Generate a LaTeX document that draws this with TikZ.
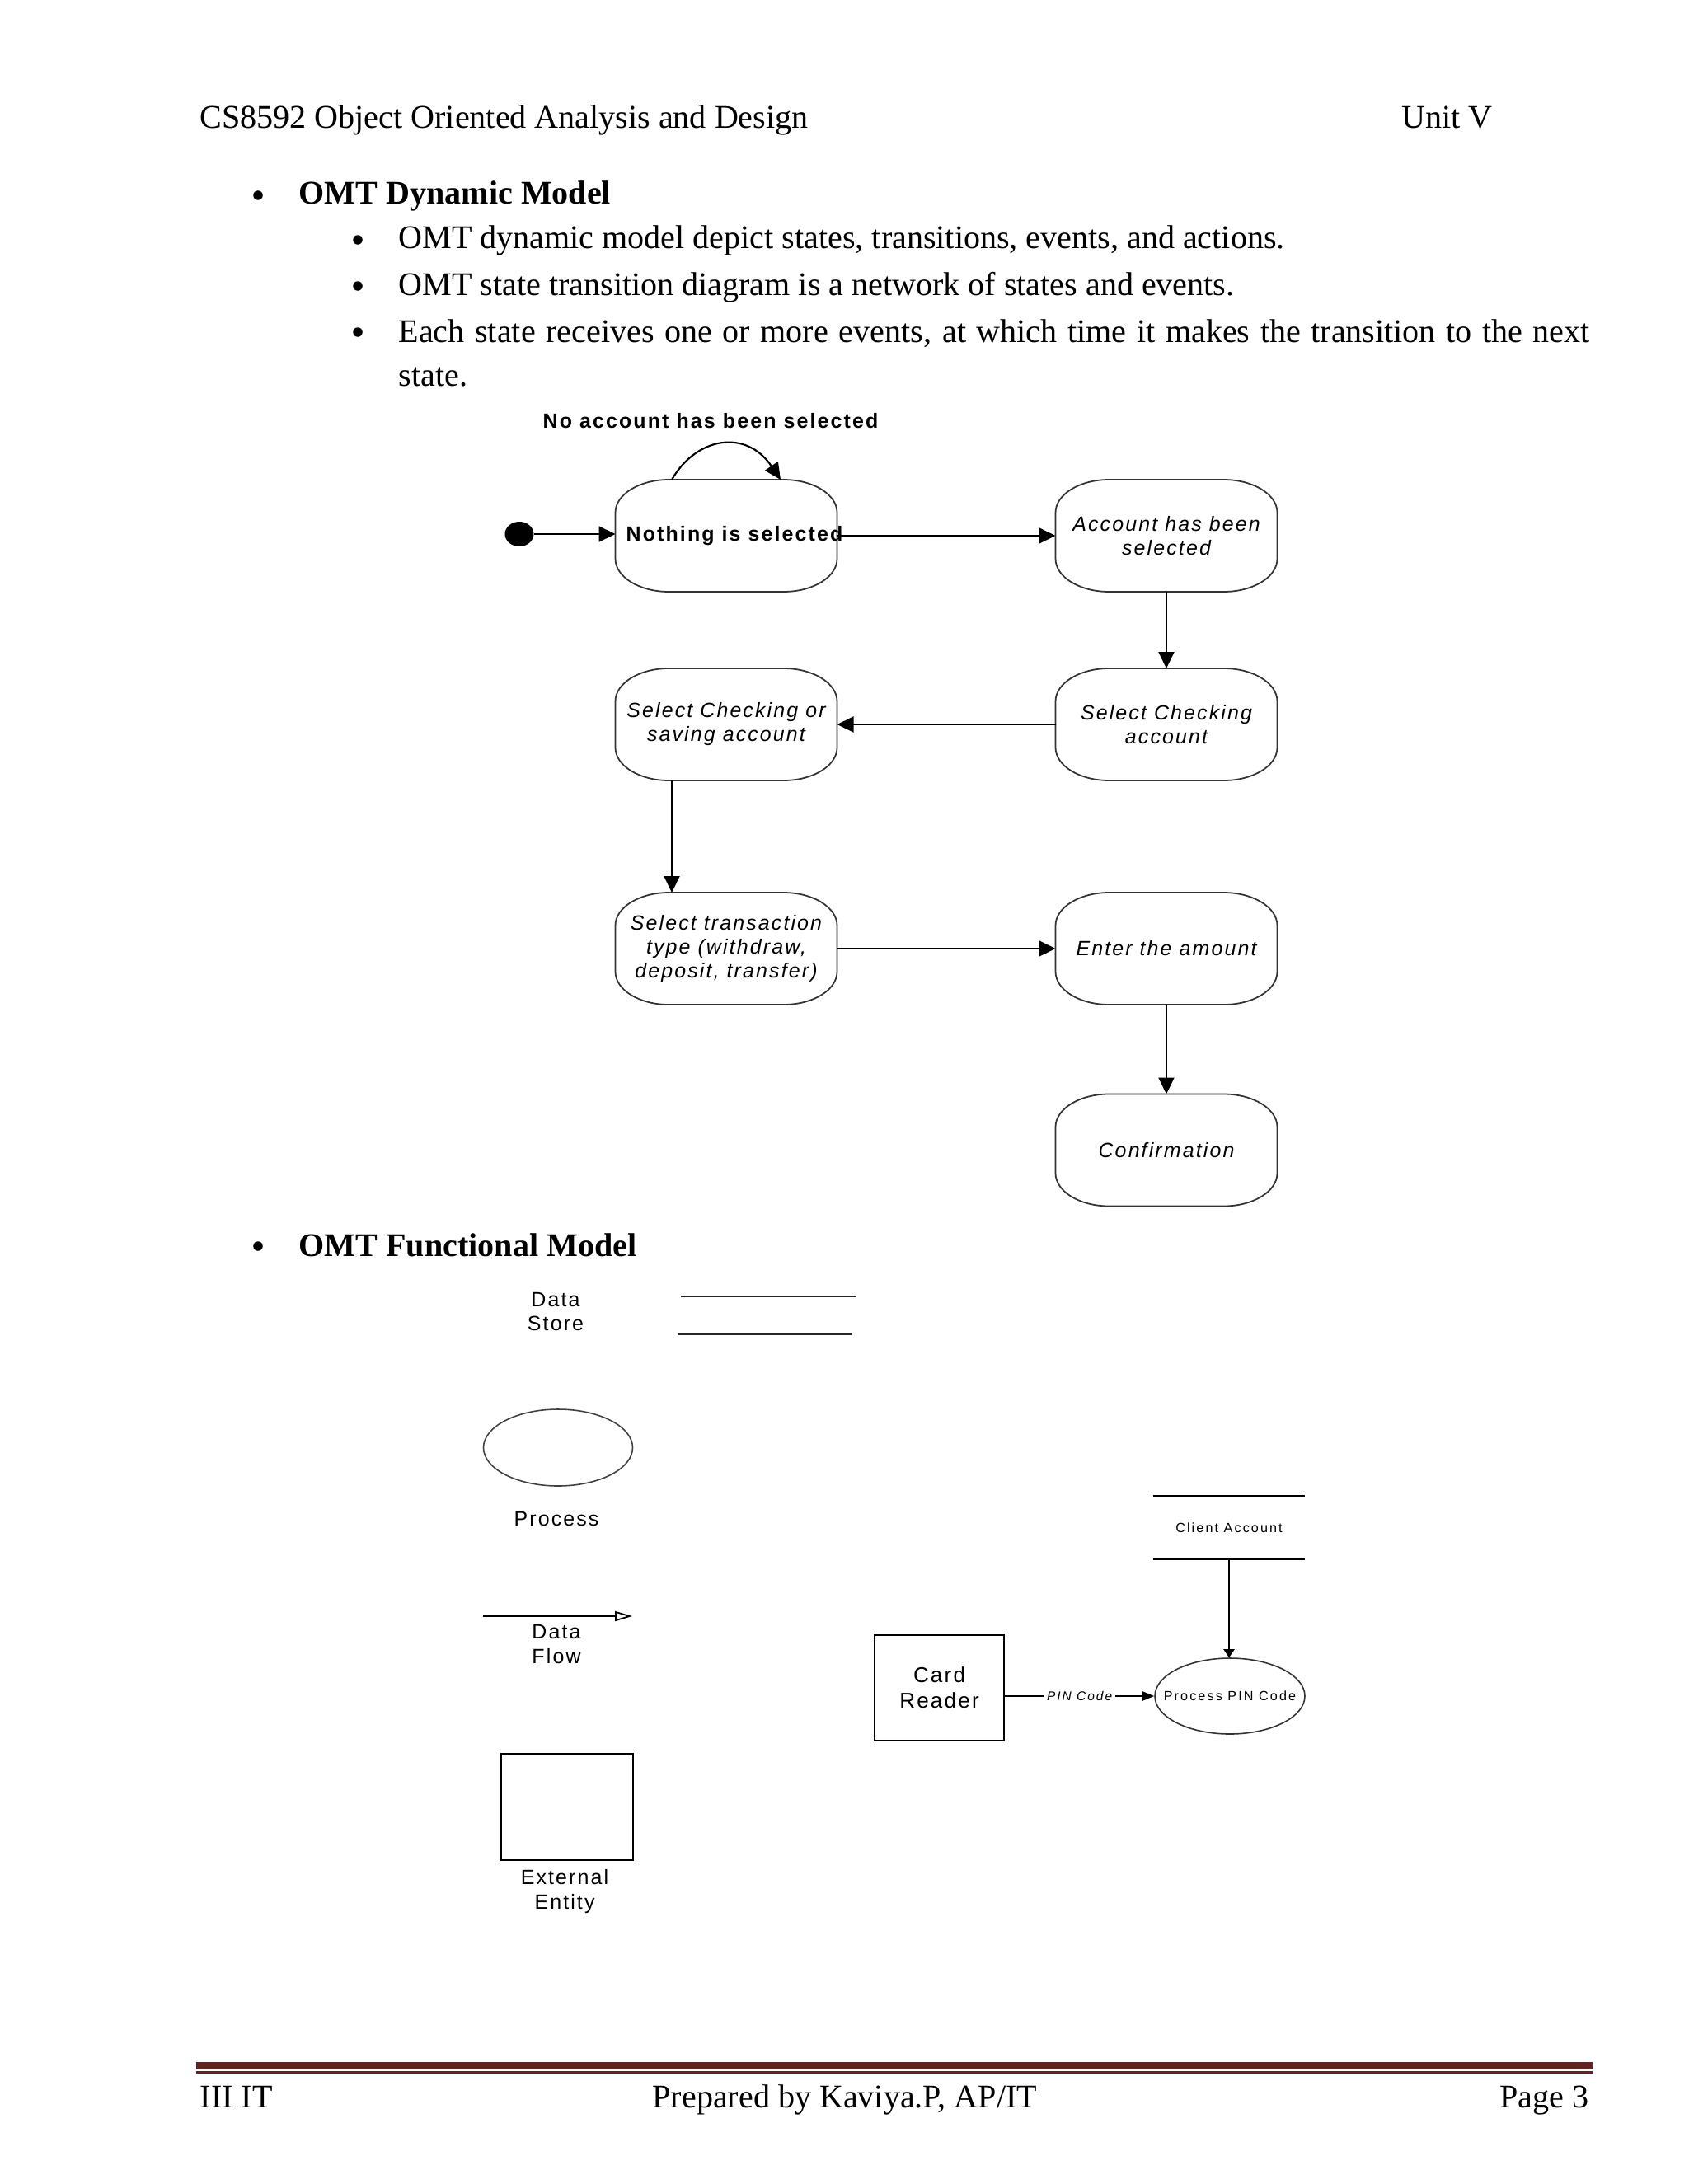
\documentclass[tikz,border=0pt]{standalone}
\usepackage{fontspec}
\setmainfont{Liberation Serif}
\newfontfamily\diagfont[LetterSpace=8.5]{Liberation Sans}
\newfontfamily\diagsmall[LetterSpace=13]{Liberation Sans}
\usetikzlibrary{arrows.meta,shapes.geometric}
\definecolor{rulered}{HTML}{622423}

\tikzset{
  body/.style={font=\fontsize{11.4}{13.7}\selectfont, inner sep=0pt, anchor=base west},
  headbold/.style={body, font=\bfseries\fontsize{11.4}{13.7}\selectfont},
  bulletdot/.style={circle, fill=black, inner sep=0pt, minimum size=0.115cm},
  statebox/.style={rectangle, minimum width=2.69cm, minimum height=1.36cm, inner sep=0pt,
    outer sep=0pt, align=center, font=\diagfont\itshape\fontsize{7.1}{8.25}\selectfont},
  stateline/.style={draw=black!80, line width=0.5pt},
  trans/.style={draw=black, line width=0.6pt, -{Triangle[length=0.2cm,width=0.19cm]}},
  legend/.style={font=\diagfont\fontsize{7.1}{8.3}\selectfont, align=center, inner sep=0pt},
}

\newcommand\stateoutline[1]{%
  \draw[stateline] ([xshift=0.65cm]#1.north west) -- ([xshift=-0.65cm]#1.north east)
    arc[start angle=90,end angle=0,x radius=0.65cm,y radius=0.40cm]
    -- ([yshift=0.40cm]#1.south east)
    arc[start angle=0,end angle=-90,x radius=0.65cm,y radius=0.40cm]
    -- ([xshift=0.65cm]#1.south west)
    arc[start angle=270,end angle=180,x radius=0.65cm,y radius=0.40cm]
    -- ([yshift=-0.40cm]#1.north west)
    arc[start angle=180,end angle=90,x radius=0.65cm,y radius=0.40cm] -- cycle;}

\begin{document}
\begin{tikzpicture}
\path[fill=white] (0,0) rectangle (20.48,-26.50);
\useasboundingbox (0,0) rectangle (20.48,-26.50);

% header
\node[body] (hleft) at (2.42,-1.55) {CS8592 Object Oriented Analysis and Design};
\node[body] (hright) at (17.00,-1.55) {Unit V};

% dynamic model text
\node[bulletdot] (bul1) at (3.13,-2.37) {};
\node[headbold] (head1) at (3.62,-2.48) {OMT Dynamic Model};
\node[bulletdot] (bul2) at (4.34,-2.91) {};
\node[body] (t1) at (4.83,-3.02) {OMT dynamic  model  depict states, transitions,  events, and actions.};
\node[bulletdot] (bul3) at (4.34,-3.47) {};
\node[body] (t2) at (4.83,-3.58) {OMT state transition  diagram  is a network of states and events.};
\node[bulletdot] (bul4) at (4.34,-4.03) {};
\node[body] (t3) at (4.83,-4.15) {\makebox[14.45cm][s]{Each state receives one or more events, at which time it makes the transition to the next}};
\node[body] (t4) at (4.83,-4.68) {state.};

% state diagram
\node[statebox] (n1) at (8.81,-6.50) {};
\node[font=\diagfont\bfseries\fontsize{7.1}{8.25}\selectfont, inner sep=0pt] (n1lbl) at (8.91,-6.50) {Nothing is selected};
\node[statebox] (n2) at (14.15,-6.50) {Account has been\\selected};
\node[statebox] (n3) at (14.15,-8.79) {Select Checking\\account};
\node[statebox] (n4) at (8.81,-8.79) {Select Checking or\\saving account};
\node[statebox] (n5) at (8.81,-11.51) {Select transaction\\type (withdraw,\\deposit, transfer)};
\node[statebox] (n6) at (14.15,-11.51) {Enter the amount};
\node[statebox] (n7) at (14.15,-13.955) {Confirmation};
\stateoutline{n1}\stateoutline{n2}\stateoutline{n3}\stateoutline{n4}
\stateoutline{n5}\stateoutline{n6}\stateoutline{n7}

\node[ellipse, fill=black, minimum width=0.35cm, minimum height=0.30cm, inner sep=0pt] (dot) at (6.30,-6.48) {};
\draw[trans] (dot.east) -- (dot.east -| n1.west);
\draw[trans] (n1.east) -- (n2.west);
\draw[trans] (n2.south) -- (n3.north);
\draw[trans] (n3.west) -- (n4.east);
\draw[trans] ([xshift=-0.66cm]n4.south) -- ([xshift=-0.66cm]n5.north);
\draw[trans] (n5.east) -- (n6.west);
\draw[trans] (n6.south) -- (n7.north);
\draw[trans] ([xshift=-0.66cm]n1.north) .. controls +(0.30,0.52) and +(-0.42,0.62) .. ([xshift=0.66cm]n1.north);
\node[font=\diagfont\bfseries\fontsize{7.1}{8.25}\selectfont, inner sep=0pt, anchor=base] (looplbl) at (8.62,-5.19) {No account has been selected};

% functional model
\node[bulletdot] (bul5) at (3.13,-15.12) {};
\node[headbold] (head2) at (3.62,-15.24) {OMT Functional Model};

\node[legend] (dslbl) at (6.74,-15.915) {Data\\Store};
\coordinate (ds1a) at (8.26,-15.73);
\coordinate (ds1b) at (10.39,-15.73);
\coordinate (ds2a) at (8.22,-16.19);
\coordinate (ds2b) at (10.33,-16.19);
\draw[line width=0.5pt, black!85] (ds1a) -- (ds1b);
\draw[line width=0.5pt, black!85] (ds2a) -- (ds2b);

\node[ellipse, draw=black!75, line width=0.45pt, minimum width=1.81cm, minimum height=0.93cm, inner sep=0pt] (proc) at (6.77,-17.565) {};
\node[legend, anchor=base] (proclbl) at (6.75,-18.51) {Process};

\coordinate (dfa) at (5.86,-19.61);
\coordinate (dfb) at (7.67,-19.61);
\draw[line width=0.5pt, -{Triangle[open,length=0.21cm,width=0.12cm]}] (dfa) -- (dfb);
\node[legend] (dflbl) at (6.75,-19.95) {Data\\Flow};

\node[draw, line width=0.6pt, minimum width=1.60cm, minimum height=1.29cm, inner sep=0pt] (ext) at (6.88,-21.925) {};
\node[legend] (extlbl) at (6.85,-22.95) {External\\Entity};

% example DFD
\node[draw, line width=0.6pt, minimum width=1.57cm, minimum height=1.28cm, inner sep=0pt,
      align=center, font=\diagfont\fontsize{7.4}{8.8}\selectfont] (card) at (11.395,-20.48) {Card\\Reader};
\node[minimum width=1.83cm, minimum height=0.75cm, inner sep=0pt,
      font=\diagsmall\fontsize{4.6}{5.5}\selectfont] (ca) at (14.91,-18.535) {Client Account};
\draw[line width=0.6pt] (ca.north west) -- (ca.north east);
\draw[line width=0.6pt] (ca.south west) -- (ca.south east);
\node[ellipse, draw=black!80, line width=0.45pt, minimum width=1.82cm, minimum height=0.92cm, inner sep=0pt] (pp) at (14.92,-20.58) {};
\node[font=\diagsmall\fontsize{4.6}{5.5}\selectfont, inner sep=0pt] (pplbl) at (pp) {Process PIN Code};
\draw[line width=0.6pt, -{Triangle[length=0.10cm,width=0.13cm]}] (ca.south) -- (ca.south |- pp.north);
\draw[line width=0.5pt, -{Triangle[length=0.14cm,width=0.11cm]}] (card.east |- pp.west) --
  node[fill=white, inner xsep=0.04cm, inner ysep=0.02cm, font=\diagsmall\itshape\fontsize{4.4}{5}\selectfont] (pinlbl) {PIN Code} (pp.west);

% footer
\fill[rulered] (2.38,-25.02) rectangle (19.32,-25.11);
\fill[rulered] (2.38,-25.13) rectangle (19.32,-25.16);
\node[body] (fleft) at (2.42,-25.57) {III IT};
\node[body] (fmid) at (7.91,-25.57) {Prepared by Kaviya.P, AP/IT};
\node[body, anchor=base east] (fright) at (19.28,-25.57) {Page 3};
\end{tikzpicture}
\end{document}
